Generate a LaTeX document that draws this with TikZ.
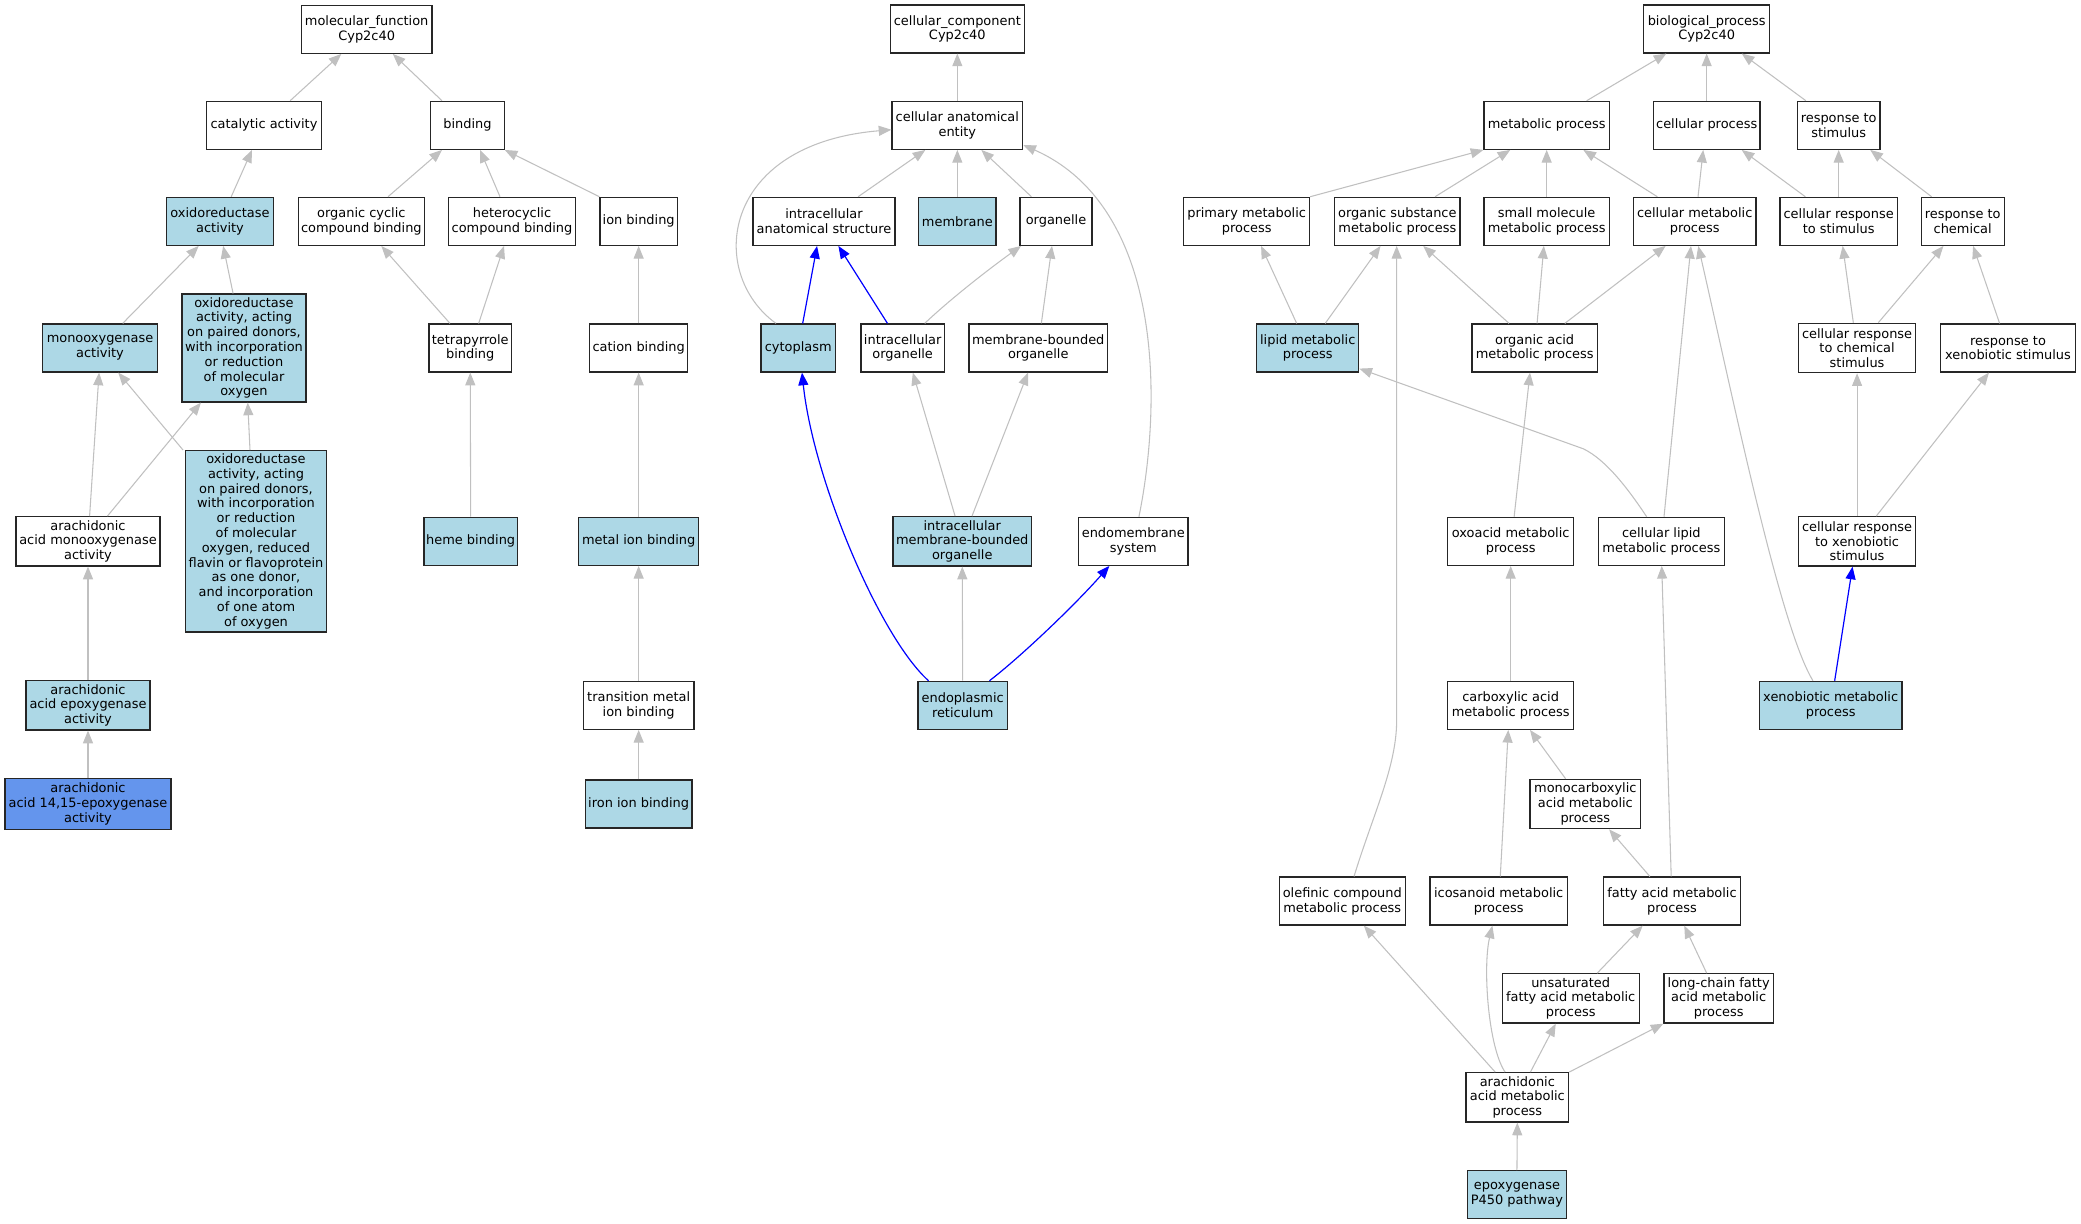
\documentclass[tikz,border=0pt]{standalone}
\usepackage{fontspec}
\setmainfont{DejaVu Sans}
\usetikzlibrary{arrows.meta}
\definecolor{lb}{HTML}{ADD8E6}
\definecolor{cfb}{HTML}{6495ED}
\definecolor{eg}{HTML}{C0C0C0}
\tikzset{
 box/.style={draw=black!85, line width=0.9pt, fill=white, rectangle, align=center, inner sep=0pt, minimum height=36pt, font=\fontsize{9.7pt}{11.1pt}\selectfont},
 hl/.style={box, fill=lb},
 ge/.style={draw=eg, line width=0.8pt, -{Triangle[length=9.5pt,width=7.5pt]}},
 be/.style={draw=blue, line width=0.9pt, -{Triangle[length=9.5pt,width=7.5pt]}},
}
\begin{document}
\begin{tikzpicture}[x=1pt,y=-1pt]
\useasboundingbox (0,0) rectangle (1560.75,918);
% ---------- molecular function ----------
\node[box, minimum width=98pt] (mf) at (275,22) {molecular\_function\\Cyp2c40};
\node[box, minimum width=86pt] (cat) at (198,94) {catalytic activity};
\node[box, minimum width=55pt] (bind) at (350.6,94) {binding};
\node[hl, minimum width=80pt] (oxr) at (165,166) {oxidoreductase\\activity};
\node[box, minimum width=94.5pt] (occ) at (271,166) {organic cyclic\\compound binding};
\node[box, minimum width=95pt] (hcc) at (384,166) {heterocyclic\\compound binding};
\node[box, minimum width=58pt] (ionb) at (479,166) {ion binding};
\node[hl, minimum width=86pt] (mono) at (75,261) {monooxygenase\\activity};
\node[hl, minimum width=93pt, minimum height=81pt] (oxa) at (183,261) {oxidoreductase\\activity, acting\\on paired donors,\\with incorporation\\or reduction\\of molecular\\oxygen};
\node[box, minimum width=62pt] (tetra) at (352.7,261) {tetrapyrrole\\binding};
\node[box, minimum width=73.6pt] (cation) at (479,261) {cation binding};
\node[box, minimum width=108pt, minimum height=37pt] (aamono) at (66,406) {arachidonic\\acid monooxygenase\\activity};
\node[hl, minimum width=106pt, minimum height=136pt] (oxb) at (192,406) {oxidoreductase\\activity, acting\\on paired donors,\\with incorporation\\or reduction\\of molecular\\oxygen, reduced\\flavin or flavoprotein\\as one donor,\\and incorporation\\of one atom\\of oxygen};
\node[hl, minimum width=70pt] (heme) at (353,406) {heme binding};
\node[hl, minimum width=90pt] (metal) at (479,406) {metal ion binding};
\node[hl, minimum width=93pt, minimum height=37pt] (aaepox) at (66,529) {arachidonic\\acid epoxygenase\\activity};
\node[box, fill=cfb, minimum width=124.5pt, minimum height=38pt] (aa1415) at (66,603) {arachidonic\\acid 14,15-epoxygenase\\activity};
\node[box, minimum width=83pt] (trans) at (479,529) {transition metal\\ion binding};
\node[hl, minimum width=80pt] (iron) at (479,603) {iron ion binding};
% ---------- cellular component ----------
\node[box, minimum width=100.5pt] (cc) at (718,21.7) {cellular\_component\\Cyp2c40};
\node[box, minimum width=98pt] (cae) at (718,94) {cellular anatomical\\entity};
\node[box, minimum width=106.5pt] (ias) at (618,166) {intracellular\\anatomical structure};
\node[hl, minimum width=58pt] (memb) at (718,166) {membrane};
\node[box, minimum width=54pt] (org) at (792,166) {organelle};
\node[hl, minimum width=56pt] (cyto) at (598.7,261) {cytoplasm};
\node[box, minimum width=62.6pt] (io) at (677,261) {intracellular\\organelle};
\node[box, minimum width=104pt] (mbo) at (778.7,261) {membrane-bounded\\organelle};
\node[hl, minimum width=104pt, minimum height=37pt] (imbo) at (721.7,406) {intracellular\\membrane-bounded\\organelle};
\node[box, minimum width=82pt] (endo) at (850,406) {endomembrane\\system};
\node[hl, minimum width=67pt] (er) at (722,529) {endoplasmic\\reticulum};
% ---------- biological process ----------
\node[box, minimum width=94.6pt] (bp) at (1280,21.7) {biological\_process\\Cyp2c40};
\node[box, minimum width=94pt] (met) at (1160,94) {metabolic process};
\node[box, minimum width=80pt] (cp) at (1280,94) {cellular process};
\node[box, minimum width=62pt] (rs) at (1379,94) {response to\\stimulus};
\node[box, minimum width=94.3pt] (pm) at (935,166) {primary metabolic\\process};
\node[box, minimum width=94pt] (osm) at (1048,166) {organic substance\\metabolic process};
\node[box, minimum width=94pt] (smm) at (1160,166) {small molecule\\metabolic process};
\node[box, minimum width=92pt] (cm) at (1271,166) {cellular metabolic\\process};
\node[box, minimum width=88pt] (crs) at (1379,166) {cellular response\\to stimulus};
\node[box, minimum width=62.3pt] (rc) at (1472,166) {response to\\chemical};
\node[hl, minimum width=76.5pt] (lip) at (980.8,261) {lipid metabolic\\process};
\node[box, minimum width=94pt] (oam) at (1151,261) {organic acid\\metabolic process};
\node[box, minimum width=88pt, minimum height=37pt] (crcs) at (1392.8,261) {cellular response\\to chemical\\stimulus};
\node[box, minimum width=101pt] (rxs) at (1506,261) {response to\\xenobiotic stimulus};
\node[box, minimum width=94.3pt] (oxo) at (1133,406) {oxoacid metabolic\\process};
\node[box, minimum width=94.3pt] (clp) at (1246,406) {cellular lipid\\metabolic process};
\node[box, minimum width=88pt, minimum height=37pt] (crxs) at (1392.8,406) {cellular response\\to xenobiotic\\stimulus};
\node[box, minimum width=94.3pt] (carb) at (1133,529) {carboxylic acid\\metabolic process};
\node[hl, minimum width=107pt] (xen) at (1373,529) {xenobiotic metabolic\\process};
\node[box, minimum width=83pt, minimum height=37pt] (mcarb) at (1189,603) {monocarboxylic\\acid metabolic\\process};
\node[box, minimum width=94.6pt] (olef) at (1006.7,675.8) {olefinic compound\\metabolic process};
\node[box, minimum width=103pt] (ico) at (1124,675.8) {icosanoid metabolic\\process};
\node[box, minimum width=102.6pt] (fa) at (1254,675.8) {fatty acid metabolic\\process};
\node[box, minimum width=102.7pt, minimum height=37pt] (ufa) at (1178,748.8) {unsaturated\\fatty acid metabolic\\process};
\node[box, minimum width=82pt, minimum height=37pt] (lcfa) at (1289,748.8) {long-chain fatty\\acid metabolic\\process};
\node[box, minimum width=77pt, minimum height=37pt] (aam) at (1138,823) {arachidonic\\acid metabolic\\process};
\node[hl, minimum width=74pt] (p450) at (1137.7,896) {epoxygenase\\P450 pathway};
% ---------- edges: molecular function ----------
\draw[ge] ([xshift=19.6pt]cat.north) -- ([xshift=-19pt]mf.south);
\draw[ge] ([xshift=-19.1pt]bind.north) -- ([xshift=19.6pt]mf.south);
\draw[ge] ([xshift=8.4pt]oxr.north) -- ([xshift=-9pt]cat.south);
\draw[ge] ([xshift=20pt]occ.north) -- ([xshift=-19.1pt]bind.south);
\draw[ge] ([xshift=-9pt]hcc.north) -- ([xshift=9.4pt]bind.south);
\draw[ge] (ionb.north west) -- (bind.south east);
\draw[ge] ([xshift=17pt]mono.north) -- ([xshift=-16pt]oxr.south);
\draw[ge] ([xshift=-8.2pt]oxa.north) -- ([xshift=2.4pt]oxr.south);
\draw[ge] ([xshift=-15.2pt]tetra.north) -- ([xshift=15pt]occ.south);
\draw[ge] ([xshift=6.3pt]tetra.north) -- ([xshift=-6pt]hcc.south);
\draw[ge] (cation.north) -- (ionb.south);
\draw[ge] ([xshift=1.2pt]aamono.north) -- ([xshift=-0.7pt]mono.south);
\draw[ge] ([xshift=14.6pt]aamono.north) -- ([xshift=-32.3pt]oxa.south);
\draw[ge] ([xshift=-54.7pt]oxb.north) -- ([xshift=13.7pt]mono.south);
\draw[ge] ([xshift=-4.5pt]oxb.north) -- ([xshift=2.8pt]oxa.south);
\draw[ge] (heme.north) -- (tetra.south);
\draw[ge] (metal.north) -- (cation.south);
\draw[ge] (aaepox.north) -- (aamono.south);
\draw[ge] (aa1415.north) -- (aaepox.south);
\draw[ge] (trans.north) -- (metal.south);
\draw[ge] (iron.north) -- (trans.south);
% ---------- edges: cellular component ----------
\draw[ge] (cae.north) -- (cc.south);
\draw[ge] ([xshift=25.6pt]ias.north) -- ([xshift=-24pt]cae.south);
\draw[ge] (memb.north) -- (cae.south);
\draw[ge] ([xshift=-18.4pt]org.north) -- ([xshift=18pt]cae.south);
\draw[ge] ([xshift=-16.7pt]cyto.north) .. controls (530,205) and (540,108) .. ([yshift=-3.3pt]cae.west);
\draw[ge] ([xshift=4.2pt]endo.north) .. controls (872,300) and (872,155) .. ([yshift=3.7pt]cae.south east);
\draw[be] ([xshift=3.3pt]cyto.north) -- ([xshift=-5.2pt]ias.south);
\draw[be] ([xshift=-11.4pt]io.north) -- ([xshift=10.8pt]ias.south);
\draw[ge] ([xshift=16.5pt]io.north) .. controls (712,225) and (740,203) .. ([xshift=-26.2pt]org.south);
\draw[ge] ([xshift=2.3pt]mbo.north) -- ([xshift=-3pt]org.south);
\draw[ge] ([xshift=-5.4pt]imbo.north) -- ([xshift=7.6pt]io.south);
\draw[ge] ([xshift=7.3pt]imbo.north) -- ([xshift=-7.7pt]mbo.south);
\draw[ge] (er.north) -- (imbo.south);
\draw[be] ([xshift=-25.6pt]er.north) .. controls (660,478) and (610,360) .. ([xshift=2.8pt]cyto.south);
\draw[be] ([xshift=20.1pt]er.north) .. controls (765,493) and (805,455) .. ([xshift=-18pt]endo.south);
% ---------- edges: biological process ----------
\draw[ge] ([xshift=30pt]met.north) -- ([xshift=-30.2pt]bp.south);
\draw[ge] (cp.north) -- (bp.south);
\draw[ge] ([xshift=-24.6pt]rs.north) -- ([xshift=26.3pt]bp.south);
\draw[ge] (pm.north east) -- (met.south west);
\draw[ge] ([xshift=28.3pt]osm.north) -- ([xshift=-27.3pt]met.south);
\draw[ge] (smm.north) -- (met.south);
\draw[ge] ([xshift=-28pt]cm.north) -- ([xshift=27.5pt]met.south);
\draw[ge] ([xshift=2.5pt]cm.north) -- ([xshift=-2.6pt]cp.south);
\draw[ge] ([xshift=-25pt]crs.north) -- ([xshift=26.3pt]cp.south);
\draw[ge] (crs.north) -- (rs.south);
\draw[ge] ([xshift=-23.3pt]rc.north) -- ([xshift=23.7pt]rs.south);
\draw[ge] ([xshift=-8.3pt]lip.north) -- ([xshift=10.8pt]pm.south);
\draw[ge] ([xshift=13.1pt]lip.north) -- ([xshift=-12.6pt]osm.south);
\draw[ge] ([xshift=-19.2pt]oam.north) -- ([xshift=19.4pt]osm.south);
\draw[ge] ([xshift=1.8pt]oam.north) -- ([xshift=-2.1pt]smm.south);
\draw[ge] ([xshift=22.6pt]oam.north) -- ([xshift=-21.8pt]cm.south);
\draw[ge] ([xshift=-11pt]clp.north) .. controls (1222,368) and (1205,345) .. (1187.5,336.6) -- ([yshift=3pt]lip.south east);
\draw[ge] ([xshift=2pt]clp.north) -- ([xshift=-2.8pt]cm.south);
\draw[ge] ([xshift=-13.3pt]xen.north) .. controls (1335,470) and (1300,300) .. ([xshift=2.7pt]cm.south);
\draw[ge] ([xshift=-2.8pt]crcs.north) -- ([xshift=3pt]crs.south);
\draw[ge] ([xshift=15.9pt]crcs.north) -- ([xshift=-14.4pt]rc.south);
\draw[ge] ([xshift=-6.3pt]rxs.north) -- ([xshift=7.8pt]rc.south);
\draw[ge] (crxs.north) -- (crcs.south);
\draw[ge] ([xshift=14.4pt]crxs.north) -- ([xshift=-14.3pt]rxs.south);
\draw[be] ([xshift=3pt]xen.north) -- ([xshift=-3.4pt]crxs.south);
\draw[ge] ([xshift=2.6pt]oxo.north) -- ([xshift=-3.5pt]oam.south);
\draw[ge] (carb.north) -- (oxo.south);
\draw[ge] ([xshift=-0.6pt]fa.north) -- ([xshift=0.3pt]clp.south);
\draw[ge] ([xshift=8.8pt]olef.north) .. controls (1030,610) and (1047.5,575) .. (1047.5,540) -- ([xshift=-0.5pt]osm.south);
\draw[ge] ([xshift=1.2pt]ico.north) -- ([xshift=-1.8pt]carb.south);
\draw[ge] ([xshift=-14.8pt]mcarb.north) -- ([xshift=14.5pt]carb.south);
\draw[ge] ([xshift=-16.6pt]fa.north) -- ([xshift=17.8pt]mcarb.south);
\draw[ge] ([xshift=19.9pt]ufa.north) -- ([xshift=-22pt]fa.south);
\draw[ge] ([xshift=-9pt]lcfa.north) -- ([xshift=9.2pt]fa.south);
\draw[ge] ([xshift=-16.6pt]aam.north) -- ([xshift=16.2pt]olef.south);
\draw[ge] ([xshift=-9.2pt]aam.north) .. controls (1116,785) and (1112,725) .. ([xshift=-4.7pt]ico.south);
\draw[ge] ([xshift=9.8pt]aam.north) -- ([xshift=-11.2pt]ufa.south);
\draw[ge] (aam.north east) -- (lcfa.south west);
\draw[ge] (p450.north) -- (aam.south);
\end{tikzpicture}
\end{document}
